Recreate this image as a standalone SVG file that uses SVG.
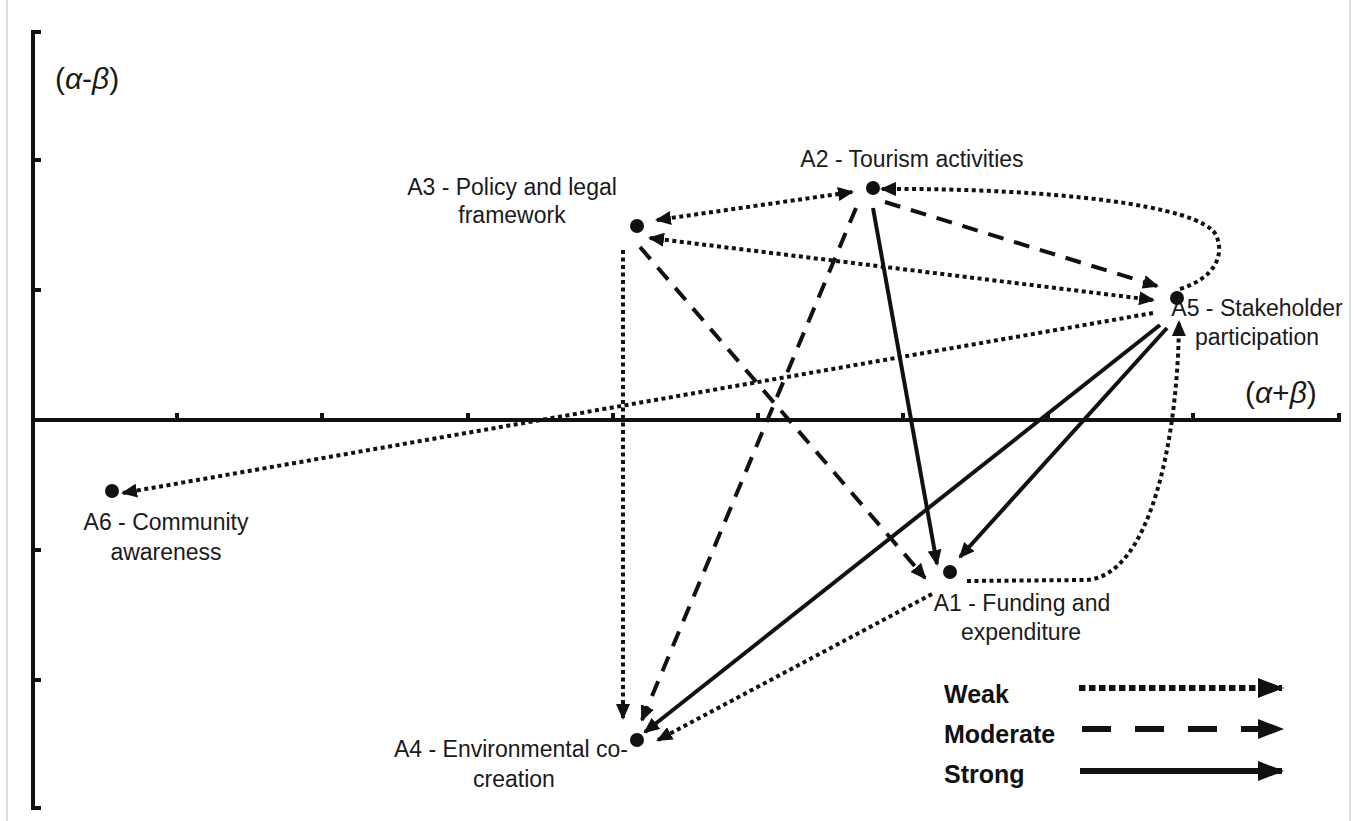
<svg xmlns="http://www.w3.org/2000/svg" width="1354" height="821" viewBox="0 0 1354 821">
<defs>
<style>
.lbl{font-family:"Liberation Sans",Arial,sans-serif;font-size:23px;fill:#1a1a1a;text-anchor:middle}
.leg{font-family:"Liberation Sans",Arial,sans-serif;font-size:25px;font-weight:bold;fill:#111}
.ax{font-family:"Liberation Sans",Arial,sans-serif;font-size:30px;fill:#1a1a1a}
.axl{stroke:#111;stroke-width:4;fill:none}
.e{stroke:#111;stroke-width:4;fill:none}
.weak{stroke-dasharray:4 3.5}
.mod{stroke-dasharray:16 11}
.dot{fill:#111}
.le{stroke:#111;stroke-width:6;fill:none}
</style>
<marker id="ah" viewBox="0 0 16 14" refX="14" refY="7" markerWidth="16" markerHeight="14" markerUnits="userSpaceOnUse" orient="auto-start-reverse"><path d="M0,0 L16,7 L0,14 z" fill="#111"/></marker>
<marker id="lah" viewBox="0 0 26 20" refX="24" refY="10" markerWidth="26" markerHeight="20" markerUnits="userSpaceOnUse" orient="auto"><path d="M0,0 L26,10 L0,20 z" fill="#111"/></marker>
</defs>
<rect x="0" y="0" width="1354" height="821" fill="#fff"/>
<line x1="7" y1="0" x2="7" y2="821" stroke="#dcdcdc" stroke-width="2"/>
<line x1="1350" y1="0" x2="1350" y2="821" stroke="#dcdcdc" stroke-width="2"/>
<g id="axes">
<path class="axl" d="M41,32 H33 V808 H41"/>
<path class="axl" d="M33,420 H1339 V413"/>
<path class="axl" d="M33,160 H41 M33,290 H41 M33,550 H41 M33,680 H41"/>
<path class="axl" d="M177,420 V413 M322,420 V413 M468,420 V413 M613,420 V413 M758,420 V413 M903,420 V413 M1048,420 V413 M1193,420 V413"/>
<text class="ax" x="55" y="89">(<tspan font-style="italic">α</tspan>-<tspan font-style="italic">β</tspan>)</text>
<text class="ax" x="1245" y="403">(<tspan font-style="italic">α</tspan>+<tspan font-style="italic">β</tspan>)</text>
</g>
<g id="connectors">
<path class="e weak" d="M657,220 L852,192" marker-start="url(#ah)" marker-end="url(#ah)"/>
<path class="e weak" d="M650,238 L1153,300" marker-start="url(#ah)" marker-end="url(#ah)"/>
<path class="e mod" d="M885,202 L1157,286" marker-end="url(#ah)"/>
<path class="e weak" d="M1180,289 C1215,278 1225,255 1216,235 C1200,205 1050,188 882,189" marker-end="url(#ah)"/>
<path class="e mod" d="M856,208 L642,720" marker-end="url(#ah)"/>
<path class="e" d="M873,208 L937,564" marker-end="url(#ah)"/>
<path class="e mod" d="M640,247 L925,578" marker-end="url(#ah)"/>
<path class="e weak" d="M623,250 L623,718" marker-end="url(#ah)"/>
<path class="e weak" d="M1153,313 L123,493" marker-end="url(#ah)"/>
<path class="e" d="M1160,325 L645,732" marker-end="url(#ah)"/>
<path class="e" d="M1167,328 L960,557" marker-end="url(#ah)"/>
<path class="e weak" d="M967,581 L1085,580 C1150,578 1178,440 1179,322" marker-end="url(#ah)"/>
<path class="e weak" d="M932,594 L658,740" marker-end="url(#ah)"/>
</g>
<g id="A1"><circle class="dot" cx="950" cy="572" r="7"/><text class="lbl" x="1022" y="611">A1 - Funding and</text><text class="lbl" x="1021" y="640">expenditure</text></g>
<g id="A2"><circle class="dot" cx="873" cy="188" r="7"/><text class="lbl" x="912" y="167">A2 - Tourism activities</text></g>
<g id="A3"><circle class="dot" cx="637" cy="226" r="7"/><text class="lbl" x="512" y="195">A3 - Policy and legal</text><text class="lbl" x="512" y="223">framework</text></g>
<g id="A4"><circle class="dot" cx="637" cy="740" r="7"/><text class="lbl" x="511" y="757">A4 - Environmental co-</text><text class="lbl" x="514" y="787">creation</text></g>
<g id="A5"><circle class="dot" cx="1177" cy="298" r="7"/><text class="lbl" x="1257" y="316">A5 - Stakeholder</text><text class="lbl" x="1257" y="345">participation</text></g>
<g id="A6"><circle class="dot" cx="112" cy="491" r="7"/><text class="lbl" x="166" y="530">A6 - Community</text><text class="lbl" x="166" y="560">awareness</text></g>
<g id="legend">
<text class="leg" x="944" y="703">Weak</text>
<text class="leg" x="944" y="743">Moderate</text>
<text class="leg" x="944" y="783">Strong</text>
<path class="le" d="M1079,688 L1282,688" stroke-dasharray="6.5 3.5" marker-end="url(#lah)"/>
<path class="le" d="M1082,729 L1282,729" stroke-dasharray="29 24" marker-end="url(#lah)"/>
<path class="le" d="M1080,771 L1282,771" marker-end="url(#lah)"/>
</g>
</svg>
